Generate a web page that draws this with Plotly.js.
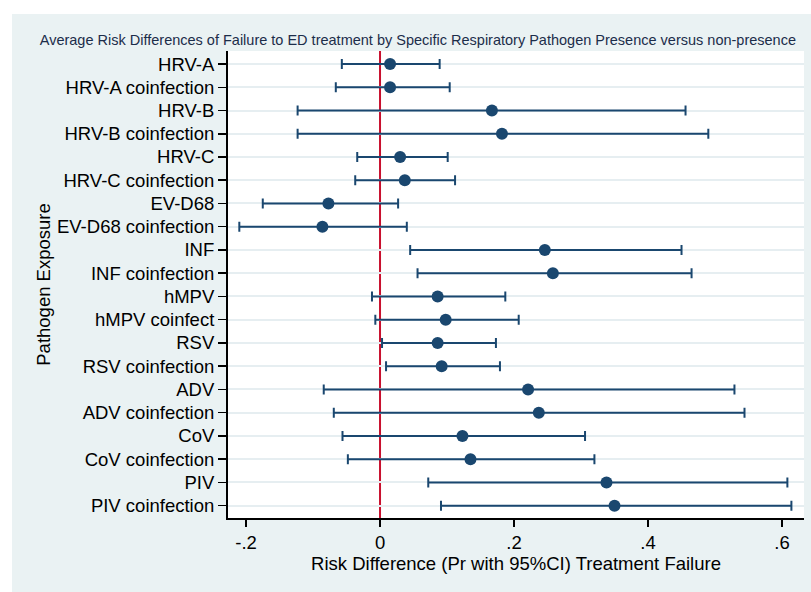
<!DOCTYPE html>
<html>
<head>
<meta charset="utf-8">
<script src="https://cdn.plot.ly/plotly-3.0.1.min.js"></script>
<style>
  html, body { margin: 0; padding: 0; background: #ffffff; }
  #chart { position: absolute; left: 12px; top: 14px; width: 799px; height: 578px; }
</style>
</head>
<body>
<div id="chart"></div>
<script>
// Pathogen exposure groups, listed top to bottom
const pathogens = [
  "HRV-A", "HRV-A coinfection", "HRV-B", "HRV-B coinfection",
  "HRV-C", "HRV-C coinfection", "EV-D68", "EV-D68 coinfection",
  "INF", "INF coinfection", "hMPV", "hMPV coinfect",
  "RSV", "RSV coinfection", "ADV", "ADV coinfection",
  "CoV", "CoV coinfection", "PIV", "PIV coinfection"
];

// Average risk difference of treatment failure
const riskDiff = [
  0.015, 0.015, 0.167, 0.182,
  0.030, 0.037, -0.077, -0.086,
  0.246, 0.258, 0.086, 0.098,
  0.086, 0.092, 0.221, 0.237,
  0.123, 0.135, 0.338, 0.350
];

// 95% confidence interval bounds
const ciLower = [
  -0.057, -0.066, -0.123, -0.123,
  -0.034, -0.037, -0.175, -0.210,
  0.045, 0.056, -0.012, -0.007,
  0.003, 0.009, -0.084, -0.069,
  -0.056, -0.048, 0.072, 0.091
];
const ciUpper = [
  0.089, 0.104, 0.456, 0.490,
  0.101, 0.112, 0.027, 0.040,
  0.450, 0.465, 0.187, 0.207,
  0.173, 0.179, 0.529, 0.544,
  0.306, 0.320, 0.608, 0.614
];

// x-axis ticks
const xTickVals = [-0.2, 0, 0.2, 0.4, 0.6];
const xTickText = ["-.2", "0", ".2", ".4", ".6"];

const navy = "#1a476f";
const font = "Liberation Sans, Arial, Helvetica, sans-serif";

const trace = {
  type: "scatter",
  mode: "markers",
  x: riskDiff,
  y: pathogens,
  marker: { color: navy, size: 12 },
  error_x: {
    type: "data",
    symmetric: false,
    array: riskDiff.map((v, i) => ciUpper[i] - v),
    arrayminus: riskDiff.map((v, i) => v - ciLower[i]),
    color: navy,
    thickness: 2,
    width: 5
  },
  hoverinfo: "x+y"
};

const layout = {
  width: 799,
  height: 578,
  margin: { l: 216, r: 7, t: 37, b: 74 },
  paper_bgcolor: "#eaf2f3",
  plot_bgcolor: "#ffffff",
  font: { family: font, color: "#000000" },
  showlegend: false,
  title: {
    text: "Average Risk Differences of Failure to ED treatment by Specific Respiratory Pathogen Presence versus non-presence",
    font: { family: font, size: 14.5, color: "#1c2d4a" },
    xref: "container", x: 0.508, xanchor: "center",
    yref: "container", y: 0.955, yanchor: "middle"
  },
  xaxis: {
    range: [-0.2269, 0.6328],
    tickvals: xTickVals,
    ticktext: xTickText,
    ticks: "outside",
    ticklen: 7,
    tickwidth: 2,
    tickcolor: "#000000",
    tickfont: { size: 18.5 },
    showline: true,
    linecolor: "#000000",
    linewidth: 2,
    showgrid: false,
    zeroline: false,
    title: {
      text: "Risk Difference (Pr with 95%CI) Treatment Failure",
      font: { size: 18.5 },
      standoff: 4
    }
  },
  yaxis: {
    type: "category",
    categoryarray: pathogens,
    range: [19.53, -0.56],
    ticks: "outside",
    ticklen: 8,
    tickwidth: 1.5,
    tickcolor: "#000000",
    tickfont: { size: 18.5 },
    showline: true,
    linecolor: "#000000",
    linewidth: 2,
    showgrid: true,
    gridcolor: "#e6eef1",
    gridwidth: 2,
    zeroline: false,
    title: {
      text: "Pathogen Exposure",
      font: { size: 18.5 },
      standoff: 1
    }
  },
  shapes: [{
    type: "line",
    xref: "x", x0: 0, x1: 0,
    yref: "paper", y0: 0, y1: 1,
    line: { color: "#c8102e", width: 2 },
    layer: "between"
  }]
};

Plotly.newPlot("chart", [trace], layout, { displayModeBar: false, staticPlot: true });
</script>
</body>
</html>
